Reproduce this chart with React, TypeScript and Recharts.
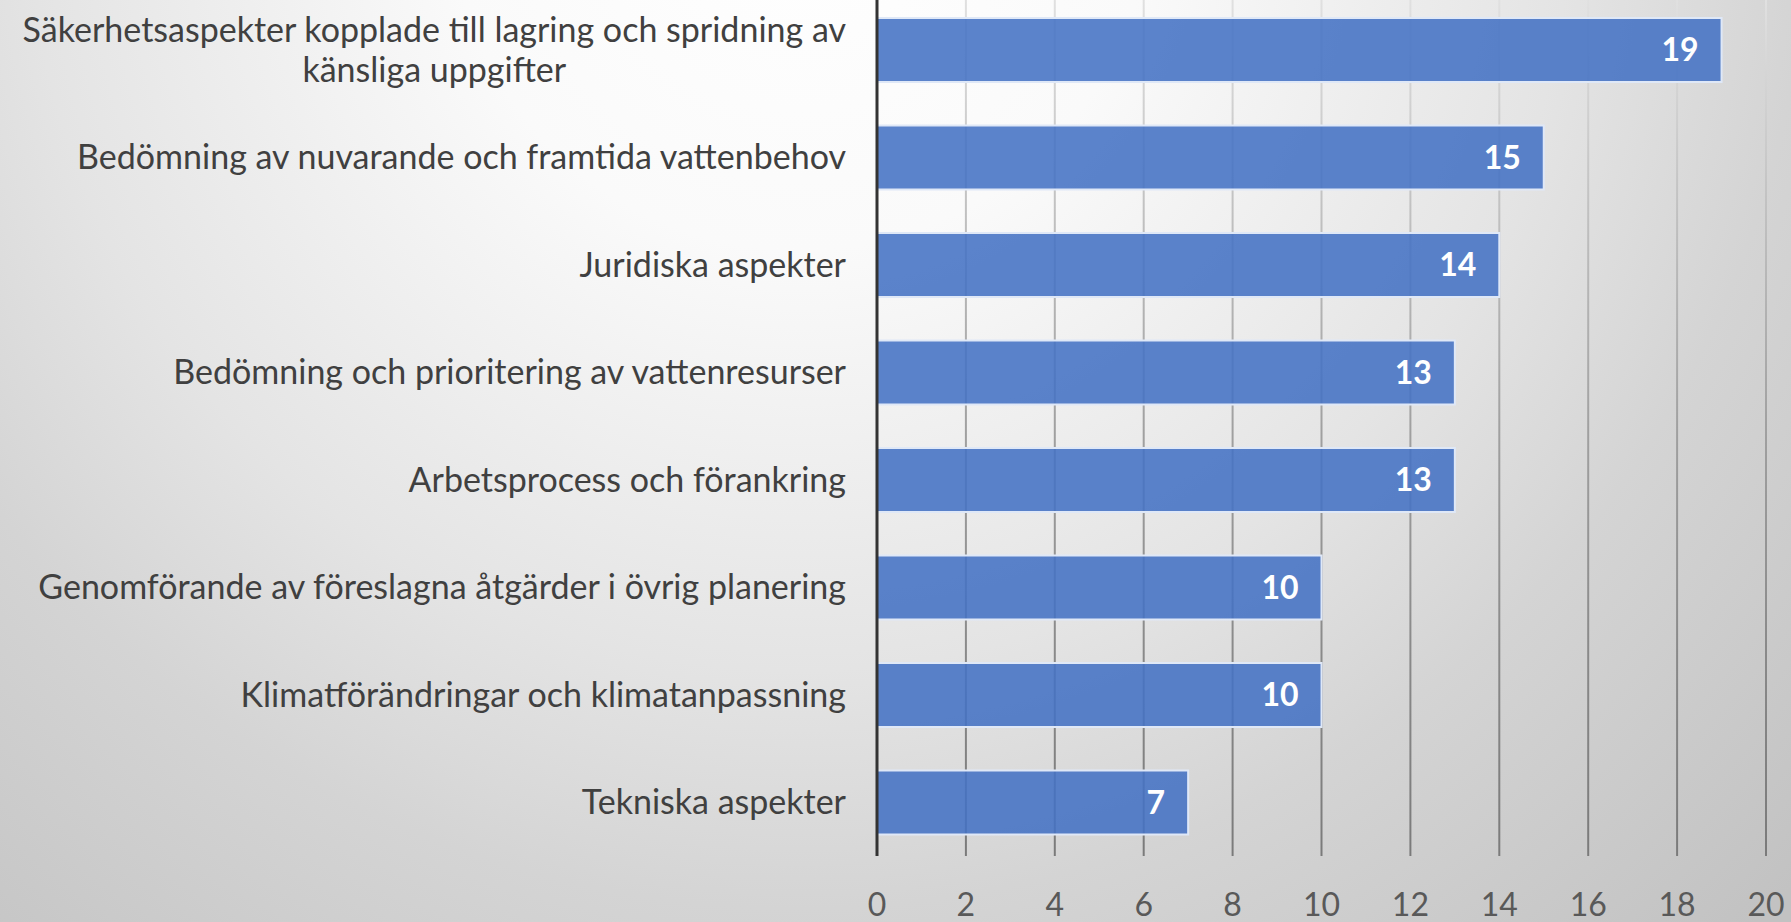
import * as React from 'react';
import { BarChart, Bar, XAxis, YAxis, CartesianGrid, LabelList } from 'recharts';

const categories = [
  'Säkerhetsaspekter kopplade till lagring och spridning av|känsliga uppgifter',
  'Bedömning av nuvarande och framtida vattenbehov',
  'Juridiska aspekter',
  'Bedömning och prioritering av vattenresurser',
  'Arbetsprocess och förankring',
  'Genomförande av föreslagna åtgärder i övrig planering',
  'Klimatförändringar och klimatanpassning',
  'Tekniska aspekter',
];

const counts = [19, 15, 14, 13, 13, 10, 10, 7];

const xTicks = [0, 2, 4, 6, 8, 10, 12, 14, 16, 18, 20];

const data = categories.map((name, i) => ({ name, value: counts[i] }));

const FONT = 'Lato, "Noto Sans", sans-serif';

function CategoryTick(props: any) {
  const { x, y, payload } = props;
  const lines: string[] = String(payload.value).split('|');
  const ref = React.useRef<SVGTextElement>(null);
  const [w, setW] = React.useState(0);

  React.useLayoutEffect(() => {
    if (lines.length > 1 && ref.current) {
      setW(ref.current.getComputedTextLength());
    }
  }, [payload.value]);

  if (lines.length === 1) {
    return (
      <text x={x} y={y} dy="0.35em" textAnchor="end" fill="#404040" fontSize={34} fontFamily={FONT}>
        {lines[0]}
      </text>
    );
  }
  const cx = x - w / 2;
  return (
    <g>
      <text ref={ref} x={cx} y={y - 20} dy="0.35em" textAnchor="middle" fill="#404040" fontSize={34} fontFamily={FONT}>
        {lines[0]}
      </text>
      <text x={cx} y={y + 20} dy="0.35em" textAnchor="middle" fill="#404040" fontSize={34} fontFamily={FONT}>
        {lines[1]}
      </text>
    </g>
  );
}

export default function App() {
  return (
    <div
      style={{
        position: 'absolute',
        left: 0,
        top: 0,
        width: 1791,
        height: 922,
        overflow: 'hidden',
        background:
          'radial-gradient(circle 1400px at 800px -100px, #ffffff 0%, #fafafa 25%, #e4e4e4 55%, #d4d4d4 72%, #c2c2c2 100%)',
      }}
    >
      <BarChart
        width={1791}
        height={922}
        data={data}
        layout="vertical"
        margin={{ top: -4, right: 25, bottom: 0, left: 0 }}
      >
        <defs>
          <linearGradient id="gridGrad" gradientUnits="userSpaceOnUse" x1="0" y1="0" x2="0" y2="860">
            <stop offset="0%" stopColor="#e0e0e0" />
            <stop offset="50%" stopColor="#a0a0a0" />
            <stop offset="75%" stopColor="#8a8a8a" />
            <stop offset="100%" stopColor="#7a7a7a" />
          </linearGradient>
        </defs>
        <CartesianGrid horizontal={false} stroke="url(#gridGrad)" strokeWidth={2} />
        <XAxis
          type="number"
          domain={[0, 20]}
          ticks={xTicks}
          height={66}
          axisLine={false}
          tickLine={false}
          tickSize={0}
          tickMargin={37}
          tick={{ fill: '#595959', fontSize: 32, fontFamily: FONT }}
        />
        <YAxis
          type="category"
          dataKey="name"
          width={877}
          axisLine={{ stroke: '#333333', strokeWidth: 3 }}
          tickLine={false}
          tickSize={0}
          tickMargin={31}
          tick={<CategoryTick />}
          interval={0}
        />
        <Bar
          dataKey="value"
          fill="#4472C4"
          fillOpacity={0.88}
          stroke="#dfe8f7"
          strokeWidth={2}
          barSize={64}
          isAnimationActive={false}
        >
          <LabelList
            dataKey="value"
            position="insideRight"
            offset={23}
            fill="#ffffff"
            fontSize={32}
            fontWeight="bold"
            fontFamily={FONT}
          />
        </Bar>
      </BarChart>
    </div>
  );
}
